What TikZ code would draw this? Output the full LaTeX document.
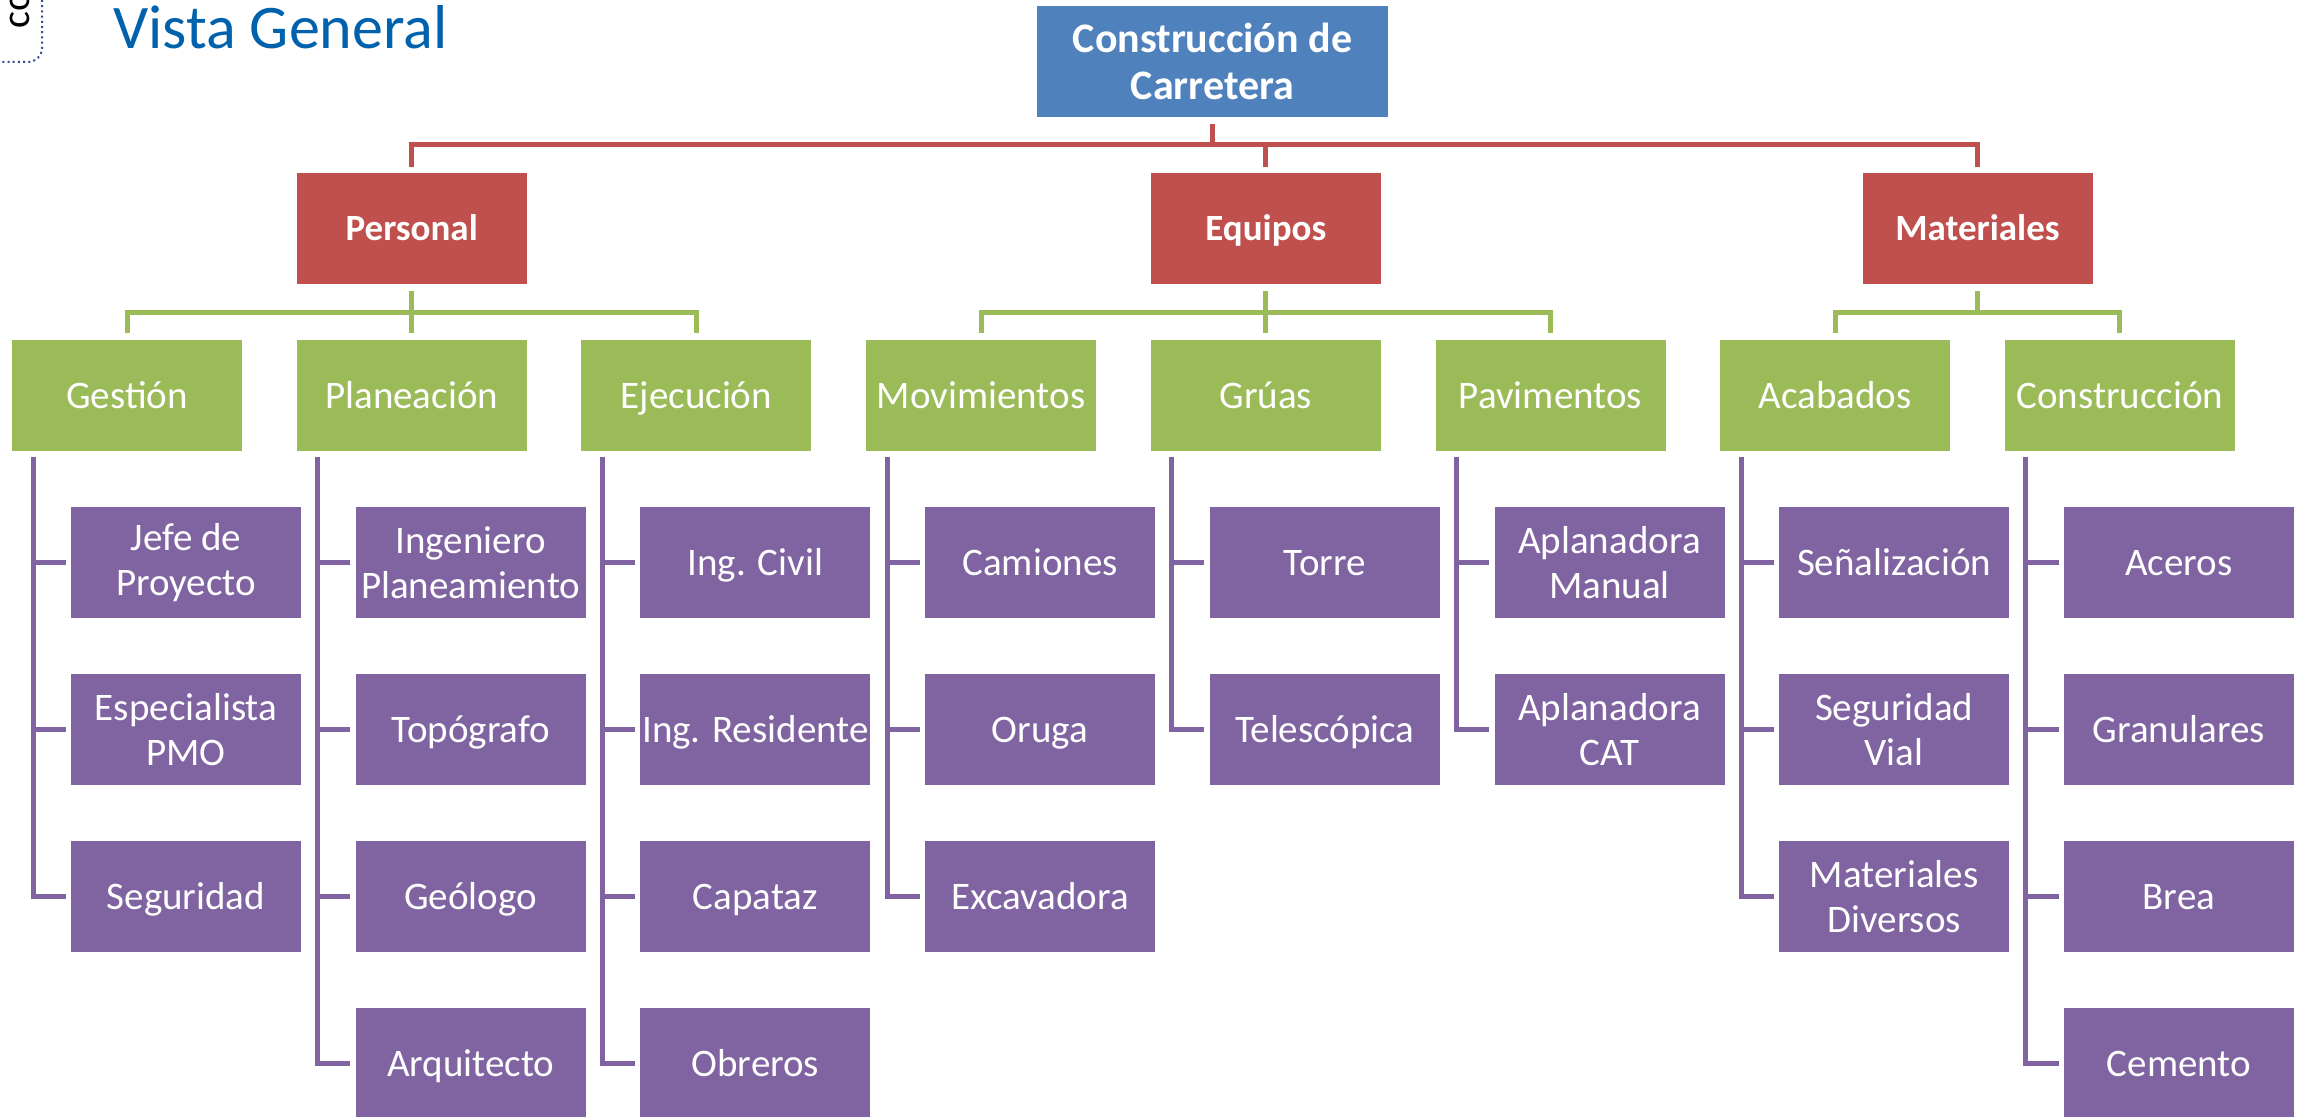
\documentclass[tikz,border=0pt]{standalone}
\usepackage{fontspec}
\setmainfont{Carlito}
\definecolor{topblue}{RGB}{79,129,189}
\definecolor{lvred}{RGB}{192,80,77}
\definecolor{lvgreen}{RGB}{155,187,89}
\definecolor{lvpurple}{RGB}{128,100,162}
\definecolor{titleblue}{RGB}{0,98,172}
\definecolor{dotblue}{RGB}{47,75,145}
\begin{document}
\begin{tikzpicture}[x=0.5pt,y=-0.5pt,
  box/.style={rectangle, inner sep=0pt, align=center, text=white, minimum width=115pt, minimum height=55.5pt},
  one/.style={text height=16pt, text depth=3.4pt},
  onered/.style={text height=15pt, text depth=3pt},
  topbox/.style={box, fill=topblue, minimum width=175.5pt, font=\fontsize{21}{23.5}\selectfont\bfseries},
  catbox/.style={box, fill=lvred, onered, font=\fontsize{18.5}{21}\selectfont\bfseries},
  grpbox/.style={box, fill=lvgreen, one, font=\fontsize{19.5}{22.5}\selectfont},
  itembox/.style={box, fill=lvpurple, font=\fontsize{19.5}{22.5}\selectfont},
  redline/.style={draw=lvred, line width=2.5pt, line join=miter},
  greenline/.style={draw=lvgreen, line width=2.5pt, line join=miter},
  purpline/.style={draw=lvpurple, line width=2.5pt, line join=miter}]
\useasboundingbox (0,0) rectangle (2303,1117);
\clip (0,0) rectangle (2303,1117);

% corner decoration and title
\node[rotate=90, anchor=base west, inner sep=0pt, font=\fontsize{20}{24}\selectfont] (co) at (29,29) {co};
\draw[dotblue, line width=1pt, dash pattern=on 1pt off 1.6pt, rounded corners=7pt] (42,0) -- (42,62) -- (0,62);
\node[anchor=base west, inner sep=0pt, text=titleblue, font=\fontsize{31}{36}\selectfont] (title) at (113,49) {Vista General};

% top
\node[topbox] (top) at (1212.5,61.5) {Construcción de\\Carretera};

% categories
\node[catbox] (pers) at (411.7,228.5) {Personal};
\node[catbox] (equi) at (1265.8,228.5) {Equipos};
\node[catbox] (mat) at (1977.5,228.5) {Materiales};

% groups
\node[grpbox] (g1) at (127,396) {Gestión};
\node[grpbox] (g2) at (411.7,396) {Planeación};
\node[grpbox] (g3) at (696.4,396) {Ejecución};
\node[grpbox] (g4) at (981.1,396) {Movimientos};
\node[grpbox] (g5) at (1265.8,396) {Grúas};
\node[grpbox] (g6) at (1550.5,396) {Pavimentos};
\node[grpbox] (g7) at (1835.2,396) {Acabados};
\node[grpbox] (g8) at (2119.9,396) {Construcción};

% items
\node[itembox] (c1-1) at (186,562.5) {Jefe de\\Proyecto};
\node[itembox] (c1-2) at (186,729.5) {Especialista\\PMO};
\node[itembox, one] (c1-3) at (186,896.5) {Seguridad};

\node[itembox] (c2-1) at (470.7,562.5) {Ingeniero\\Planeamiento};
\node[itembox, one] (c2-2) at (470.7,729.5) {Topógrafo};
\node[itembox, one] (c2-3) at (470.7,896.5) {Geólogo};
\node[itembox, one] (c2-4) at (470.7,1063.5) {Arquitecto};

\node[itembox, one] (c3-1) at (755.4,562.5) {Ing. Civil};
\node[itembox, one] (c3-2) at (755.4,729.5) {Ing. Residente};
\node[itembox, one] (c3-3) at (755.4,896.5) {Capataz};
\node[itembox, one] (c3-4) at (755.4,1063.5) {Obreros};

\node[itembox, one] (c4-1) at (1040.1,562.5) {Camiones};
\node[itembox, one] (c4-2) at (1040.1,729.5) {Oruga};
\node[itembox, one] (c4-3) at (1040.1,896.5) {Excavadora};

\node[itembox, one] (c5-1) at (1324.8,562.5) {Torre};
\node[itembox, one] (c5-2) at (1324.8,729.5) {Telescópica};

\node[itembox] (c6-1) at (1609.5,562.5) {Aplanadora\\Manual};
\node[itembox] (c6-2) at (1609.5,729.5) {Aplanadora\\CAT};

\node[itembox, one] (c7-1) at (1894.2,562.5) {Señalización};
\node[itembox] (c7-2) at (1894.2,729.5) {Seguridad\\Vial};
\node[itembox] (c7-3) at (1894.2,896.5) {Materiales\\Diversos};

\node[itembox, one] (c8-1) at (2178.9,562.5) {Aceros};
\node[itembox, one] (c8-2) at (2178.9,729.5) {Granulares};
\node[itembox, one] (c8-3) at (2178.9,896.5) {Brea};
\node[itembox, one] (c8-4) at (2178.9,1063.5) {Cemento};

% red connectors
\coordinate (rbus) at (0,145);
\draw[redline] ([yshift=-3.5pt]top.south) -- (top.south |- rbus);
\draw[redline] ([yshift=3pt]pers.north) -- (pers.north |- rbus) -- (mat.north |- rbus) -- ([yshift=3pt]mat.north);
\draw[redline] (equi.north |- rbus) -- ([yshift=3pt]equi.north);

% green connectors
\coordinate (gbus) at (0,312.5);
\draw[greenline] ([yshift=-3.5pt]pers.south) -- (pers.south |- gbus);
\draw[greenline] ([yshift=3.5pt]g1.north) -- (g1.north |- gbus) -- (g3.north |- gbus) -- ([yshift=3.5pt]g3.north);
\draw[greenline] (g2.north |- gbus) -- ([yshift=3.5pt]g2.north);
\draw[greenline] ([yshift=-3.5pt]equi.south) -- (equi.south |- gbus);
\draw[greenline] ([yshift=3.5pt]g4.north) -- (g4.north |- gbus) -- (g6.north |- gbus) -- ([yshift=3.5pt]g6.north);
\draw[greenline] (g5.north |- gbus) -- ([yshift=3.5pt]g5.north);
\draw[greenline] ([yshift=-3.5pt]mat.south) -- (mat.south |- gbus);
\draw[greenline] ([yshift=3.5pt]g7.north) -- (g7.north |- gbus) -- (g8.north |- gbus) -- ([yshift=3.5pt]g8.north);

% purple connectors
\foreach \g/\n in {1/3,2/4,3/4,4/3,5/2,6/2,7/3,8/4} {
  \draw[purpline] ([xshift=-47pt,yshift=-2.5pt]g\g.south) -- ([xshift=-47pt]g\g.south |- c\g-\n.west) -- ([xshift=-2.5pt]c\g-\n.west);
  \foreach \k in {1,...,\n} {
    \draw[purpline] ([xshift=-2.5pt]c\g-\k.west) -- ([xshift=-19pt]c\g-\k.west);
  }
}
\end{tikzpicture}
\end{document}
